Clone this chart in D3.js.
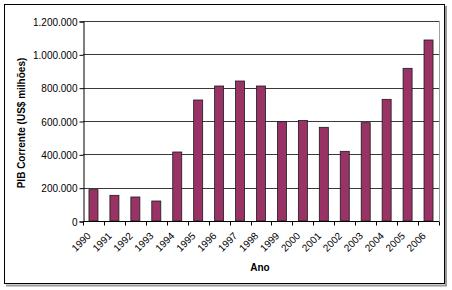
<!DOCTYPE html>
<html>
<head>
<meta charset="utf-8">
<title>PIB Corrente</title>
<script src="https://cdn.jsdelivr.net/npm/d3@7/dist/d3.min.js"></script>
<style>
  body { margin: 0; background: #fff; }
  svg text { font-family: Arial, "Liberation Sans", sans-serif; }
</style>
</head>
<body>
<div id="chart"></div>
<script>
// dados
var anos = ["1990","1991","1992","1993","1994","1995","1996","1997","1998",
            "1999","2000","2001","2002","2003","2004","2005","2006"];
var pib = [188000, 154000, 144000, 120000, 414000, 726000, 810000, 840000, 810000,
           596000, 603000, 562000, 418000, 590000, 730000, 916000, 1086000];
var yTicks = [0, 200000, 400000, 600000, 800000, 1000000, 1200000];

var width = 452, height = 290;
var plot = { left: 83, right: 439, top: 21, bottom: 221 };

var svg = d3.select("#chart").append("svg")
    .attr("width", width)
    .attr("height", height);

// moldura do grafico com sombra
svg.append("path")
    .attr("d", "M446,6 V285.5 H6")
    .attr("fill", "none")
    .attr("stroke", "#9a9a9a")
    .attr("stroke-width", 2);
svg.append("rect")
    .attr("x", 4.5).attr("y", 4.5)
    .attr("width", 440).attr("height", 279)
    .attr("fill", "#fff")
    .attr("stroke", "#000");

var x = d3.scaleBand()
    .domain(anos)
    .range([plot.left, plot.right])
    .paddingInner(0.57)
    .paddingOuter(0.285);

var y = d3.scaleLinear()
    .domain([0, 1200000])
    .range([plot.bottom, plot.top]);

var fmt = function(d){
    return d3.format(",")(d).replace(/,/g, ".");
};

// borda direita da area de plotagem
svg.append("line")
    .attr("x1", plot.right + 0.5).attr("x2", plot.right + 0.5)
    .attr("y1", plot.top).attr("y2", plot.bottom)
    .attr("stroke", "#a0a0a0");

// linhas de grade
svg.selectAll("line.grid")
    .data(yTicks.slice(1))
    .enter()
    .append("line")
    .attr("class", "grid")
    .attr("x1", plot.left)
    .attr("x2", plot.right)
    .attr("y1", function(d){ return Math.round(y(d)) + 0.5; })
    .attr("y2", function(d){ return Math.round(y(d)) + 0.5; })
    .attr("stroke", "#3a3a3a");

// barras
svg.selectAll("rect.bar")
    .data(pib)
    .enter()
    .append("rect")
    .attr("class", "bar")
    .attr("x", function(d, i){ return x(anos[i]); })
    .attr("y", function(d){ return y(d); })
    .attr("width", x.bandwidth())
    .attr("height", function(d){ return plot.bottom - y(d); })
    .attr("fill", "#993366")
    .attr("stroke", "#1a1a1a")
    .attr("stroke-width", 0.8);

// eixo y
var yAxis = d3.axisLeft(y)
    .tickValues(yTicks)
    .tickFormat(fmt)
    .tickSize(4)
    .tickPadding(2);
var gy = svg.append("g")
    .attr("transform", "translate(" + (plot.left + 0.5) + ",0.5)")
    .call(yAxis);
gy.select(".domain").attr("stroke", "#000");
gy.selectAll(".tick text")
    .attr("font-size", "10px")
    .attr("fill", "#000")
    .attr("y", 0.5);

// eixo x com marcas nas bordas das categorias
var gx = svg.append("g")
    .attr("transform", "translate(0," + (plot.bottom + 0.5) + ")");
gx.append("line")
    .attr("x1", plot.left).attr("x2", plot.right)
    .attr("stroke", "#000");
var edges = d3.range(anos.length + 1).map(function(i){
    return plot.left + i * (plot.right - plot.left) / anos.length;
});
gx.selectAll("line.tk")
    .data(edges)
    .enter()
    .append("line")
    .attr("class", "tk")
    .attr("x1", function(d){ return Math.round(d) + 0.5; })
    .attr("x2", function(d){ return Math.round(d) + 0.5; })
    .attr("y1", 0).attr("y2", 4)
    .attr("stroke", "#000");
gx.selectAll("text")
    .data(anos)
    .enter()
    .append("text")
    .attr("font-size", "10px")
    .attr("text-anchor", "end")
    .attr("transform", function(d){
        var cx = x(d) + x.bandwidth() / 2;
        return "translate(" + (cx - 2) + ",15) rotate(-45)";
    })
    .text(function(d){ return d; });

// titulos dos eixos
svg.append("text")
    .attr("x", 260)
    .attr("y", 271)
    .attr("text-anchor", "middle")
    .attr("font-size", "10px")
    .attr("font-weight", "bold")
    .text("Ano");

svg.append("text")
    .attr("transform", "translate(25,123) rotate(-90)")
    .attr("text-anchor", "middle")
    .attr("font-size", "10px")
    .attr("font-weight", "bold")
    .text("PIB Corrente (US$ milhões)");
</script>
</body>
</html>
